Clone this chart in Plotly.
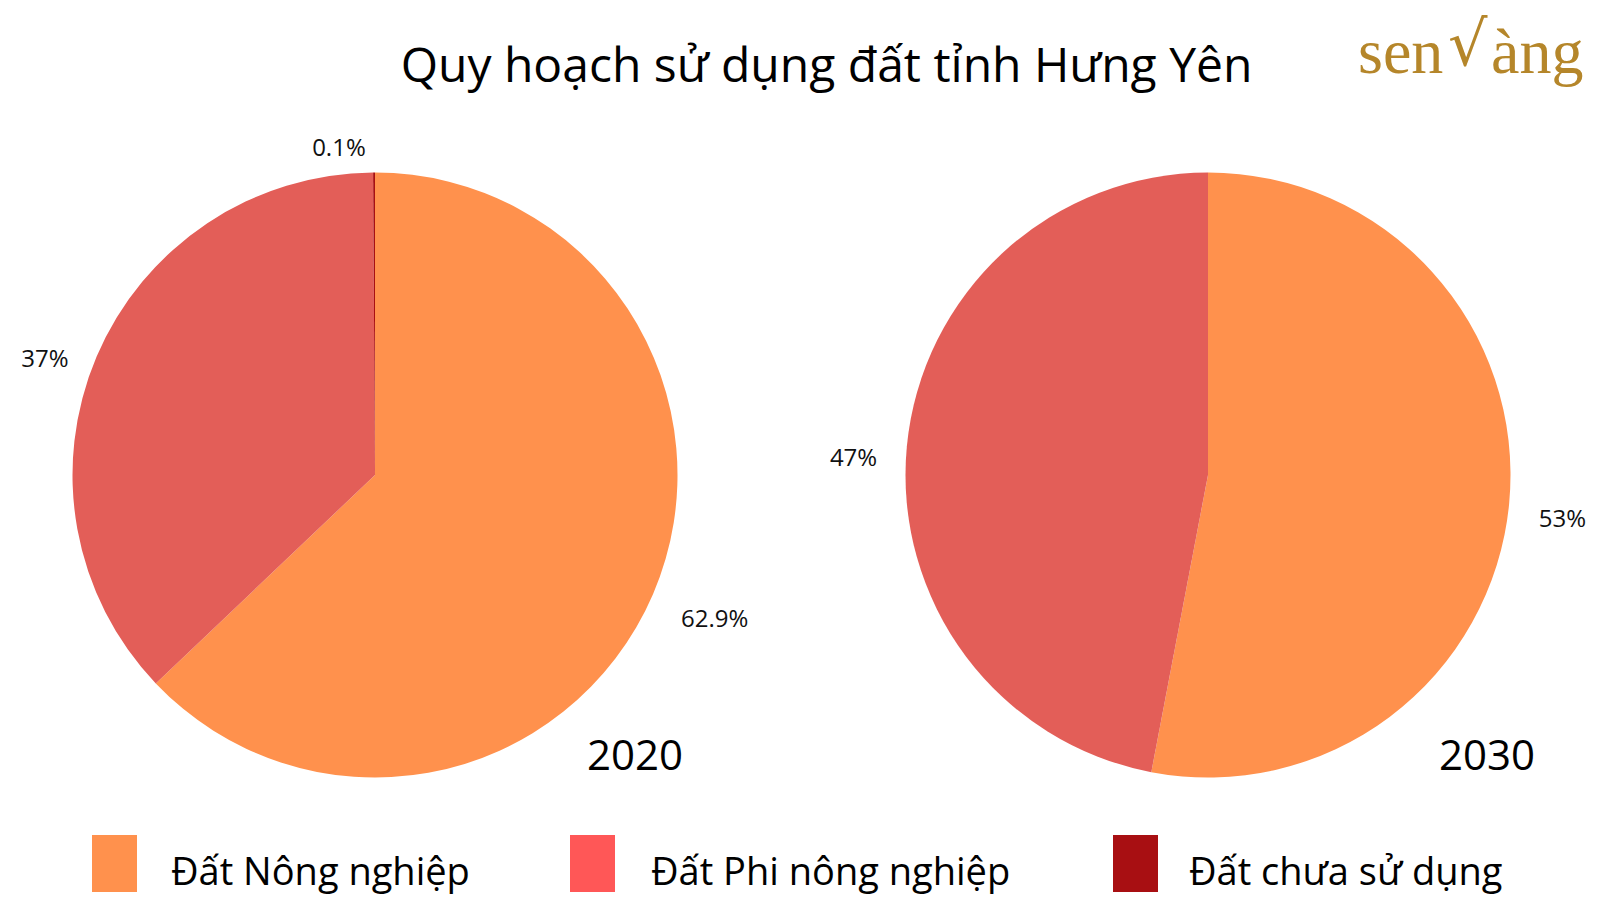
import plotly.graph_objects as go

PAGE_W, PAGE_H = 1600, 914
OFF = 8  # default body margin of the html page
W, H = PAGE_W - 2 * OFF, PAGE_H - 2 * OFF

categories = ["Đất Nông nghiệp", "Đất Phi nông nghiệp", "Đất chưa sử dụng"]
values_2020 = [62.9, 37.0, 0.1]
values_2030 = [53.0, 47.0, 0.0]
text_2020 = ["62.9%", "37%", "0.1%"]
text_2030 = ["53%", "47%", ""]
years = ["2020", "2030"]
title_text = "Quy hoạch sử dụng đất tỉnh Hưng Yên"

slice_colors = ["#FF914D", "#E35E58", "#A80F12"]
legend_colors = ["#FF914D", "#FF5757", "#A80F12"]
FONT = "Open Sans"


def px_x(x):
    return (x - OFF) / W


def px_y(y):
    return 1 - (y - OFF) / H


fig = go.Figure()

centers = [(375, 475), (1208, 475)]
R = 302.5
R_LABEL = 324
LABEL_DY = 12

for vals, txt, (cx, cy) in zip([values_2020, values_2030], [text_2020, text_2030], centers):
    # visible pie
    fig.add_trace(go.Pie(
        labels=categories, values=vals, textinfo="none",
        marker=dict(colors=slice_colors, line=dict(width=0)),
        sort=False, direction="clockwise", rotation=0,
        domain=dict(x=[px_x(cx - R), px_x(cx + R)], y=[px_y(cy + R), px_y(cy - R)]),
        showlegend=False, automargin=False, hoverinfo="label+percent",
    ))
    # transparent, slightly larger pie that carries the outside labels
    ly = cy + LABEL_DY
    fig.add_trace(go.Pie(
        labels=categories, values=vals, text=txt,
        textinfo="text", textposition="outside",
        textfont=dict(family=FONT, size=24, color="#111111"),
        marker=dict(colors=["rgba(0,0,0,0)"] * 3, line=dict(width=0)),
        sort=False, direction="clockwise", rotation=0,
        domain=dict(x=[px_x(cx - R_LABEL), px_x(cx + R_LABEL)],
                    y=[px_y(ly + R_LABEL), px_y(ly - R_LABEL)]),
        showlegend=False, automargin=False, hoverinfo="skip",
    ))

annotations = []
shapes = []
# year labels
for yr, xc in zip(years, [634.7, 1486.7]):
    annotations.append(dict(text=yr, x=px_x(xc), y=px_y(753), xref="paper", yref="paper",
                            showarrow=False, xanchor="center", yanchor="middle",
                            font=dict(family=FONT, size=42, color="#000000")))

# custom legend
rect_x = [92, 570, 1113]
text_x = [169, 649, 1187]
for cat, col, rx, tx in zip(categories, legend_colors, rect_x, text_x):
    shapes.append(dict(type="rect", xref="paper", yref="paper",
                       x0=px_x(rx), x1=px_x(rx + 45), y0=px_y(892), y1=px_y(835),
                       fillcolor=col, line=dict(width=0)))
    annotations.append(dict(text=cat, x=px_x(tx), y=px_y(870), xref="paper", yref="paper",
                            showarrow=False, xanchor="left", yanchor="middle",
                            font=dict(family=FONT, size=38, color="#000000")))

# logo
GOLD = "#B5862A"
annotations.append(dict(text="sen", x=px_x(1356), y=px_y(51), xref="paper", yref="paper",
                        showarrow=False, xanchor="left", yanchor="middle",
                        font=dict(family="Liberation Serif", size=64, color=GOLD)))
annotations.append(dict(text="√", x=px_x(1468), y=px_y(44), xref="paper", yref="paper",
                        showarrow=False, xanchor="center", yanchor="middle",
                        font=dict(family="DejaVu Serif", size=62, color=GOLD)))
annotations.append(dict(text="àng", x=px_x(1489), y=px_y(51), xref="paper", yref="paper",
                        showarrow=False, xanchor="left", yanchor="middle",
                        font=dict(family="Liberation Serif", size=64, color=GOLD)))

fig.update_layout(
    width=W, height=H,
    margin=dict(l=0, r=0, t=0, b=0),
    paper_bgcolor="white", plot_bgcolor="white",
    title=dict(text=title_text, x=px_x(826.5), xanchor="center", y=px_y(65), yanchor="middle",
               yref="paper", font=dict(family=FONT, size=48, color="#000000")),
    annotations=annotations, shapes=shapes,
)

fig.write_html("out.html")
